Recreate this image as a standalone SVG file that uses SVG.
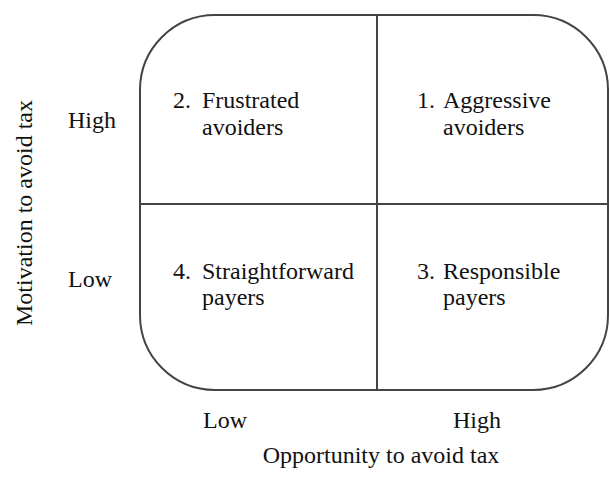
<svg xmlns="http://www.w3.org/2000/svg" width="610" height="478" viewBox="0 0 610 478" font-family="'Liberation Serif', 'DejaVu Serif', serif" font-size="24">
<style>
text{font-family:"Liberation Serif","DejaVu Serif",serif;font-size:24px;fill:#111}
.frame{fill:none;stroke:#444;stroke-width:2}
</style>
<rect width="610" height="478" fill="#fff"/>
<g id="matrix">
<rect class="frame" x="140" y="15" width="468" height="375" rx="75" ry="75"/>
<line class="frame" x1="377" y1="15" x2="377" y2="390"/>
<line class="frame" x1="140" y1="204" x2="608" y2="204"/>
</g>
<g id="connectors"></g>
<g id="q2"><text x="173" y="108">2.</text><text x="202" y="108">Frustrated</text><text x="202" y="135">avoiders</text></g>
<g id="q1"><text x="417" y="108">1.</text><text x="443" y="108">Aggressive</text><text x="443" y="135">avoiders</text></g>
<g id="q4"><text x="173" y="279">4.</text><text x="202" y="279">Straightforward</text><text x="202" y="305">payers</text></g>
<g id="q3"><text x="417" y="279">3.</text><text x="443" y="279">Responsible</text><text x="443" y="305">payers</text></g>
<g id="y-axis">
<text x="68" y="128">High</text>
<text x="68" y="287">Low</text>
<text transform="translate(32,213) rotate(-90)" text-anchor="middle">Motivation to avoid tax</text>
</g>
<g id="x-axis">
<text x="203" y="428">Low</text>
<text x="453" y="428">High</text>
<text x="381" y="463" text-anchor="middle">Opportunity to avoid tax</text>
</g>
</svg>
